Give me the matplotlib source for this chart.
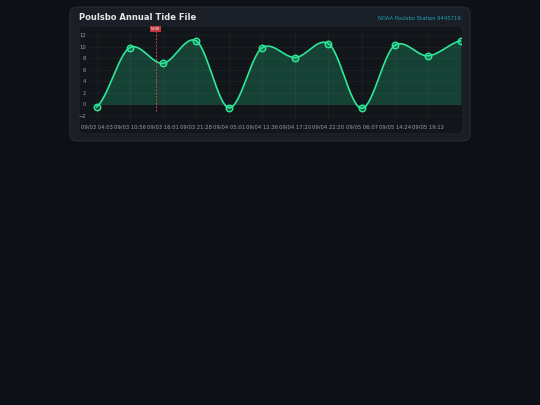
import numpy as np
import matplotlib.pyplot as plt
from matplotlib.patches import FancyBboxPatch

labels = ['09/03 04:03', '09/03 10:56', '09/03 16:01', '09/03 21:28', '09/04 05:01', '09/04 12:36',
          '09/04 17:20', '09/04 22:20', '09/05 06:07', '09/05 14:24', '09/05 19:12', '09/06 01:40']
heights = [-0.4, 9.8, 7.1, 11.0, -0.6, 9.8, 8.1, 10.5, -0.7, 10.2, 8.4, 11.0]
now_pos = 1.78

def smooth(x, y, n=30):
    # catmull-rom through points, only for drawing the curve
    x = np.asarray(x, float); y = np.asarray(y, float)
    xs, ys = [], []
    for i in range(len(x) - 1):
        y0 = y[i - 1] if i > 0 else y[i]
        y3 = y[i + 2] if i + 2 < len(y) else y[i + 1]
        m1 = (y[i + 1] - y0) / 2 * 0.8
        m2 = (y3 - y[i]) / 2 * 0.8
        t = np.linspace(0, 1, n, endpoint=False)
        h00 = 2*t**3 - 3*t**2 + 1; h10 = t**3 - 2*t**2 + t
        h01 = -2*t**3 + 3*t**2; h11 = t**3 - t**2
        xs.append(x[i] + t); ys.append(h00*y[i] + h10*m1 + h01*y[i+1] + h11*m2)
    xs.append([x[-1]]); ys.append([y[-1]])
    return np.concatenate(xs), np.concatenate(ys)

fig = plt.figure(figsize=(5.4, 4.05), dpi=100)
fig.patch.set_facecolor('#0d1117')
W, H = 540, 405
card = FancyBboxPatch((70/W, 1-141/H), 400/W, 134/H, boxstyle='round,pad=0,rounding_size=0.015',
                      transform=fig.transFigure, fc='#1a1e26', ec='#262b35', lw=0.8, zorder=-2)
fig.patches.append(card)
inner = FancyBboxPatch((80/W, 1-133/H), 382/W, 106/H, boxstyle='round,pad=0,rounding_size=0.01',
                       transform=fig.transFigure, fc='#121519', ec='none', zorder=-1)
fig.patches.append(inner)
fig.text(79/W, 1-18/H, 'Poulsbo Annual Tide File', color='#e6e6e6', fontsize=6, fontweight='bold', va='center')
fig.text(461/W, 1-18/H, 'NOAA Poulsbo Station 9445719', color='#1fa3b8', fontsize=3.8, ha='right', va='center')

ax = fig.add_axes([90/W, 1-120/H, 371/W, 90/H], zorder=1)
ax.set_facecolor('#121519')
x = np.arange(len(heights))
xs, ys = smooth(x, heights)
ax.fill_between(xs, ys, 0, color='#1a7a55', alpha=0.45, lw=0)
ax.plot(xs, ys, color='#2ee89a', lw=1.2)
ax.scatter(x, heights, s=22, facecolor=(0.18, 0.91, 0.6, 0.3), edgecolor='#2ee89a', lw=1.0, zorder=3)
ax.axvline(now_pos, ymin=0.1, ymax=1, color='#d9434a', ls=(0, (2, 1.5)), lw=0.7)
ax.text(now_pos, 13.0, 'NOW', color='#ffffff', fontsize=2.6, ha='center', va='center',
        bbox=dict(fc='#c0353b', ec='none', pad=0.6))
ax.set_xlim(-0.2, 10.58)
ax.set_ylim(-2.7, 12.86)
ax.set_yticks(range(-2, 13, 2))
ax.set_xticks(x)
ax.set_xticklabels(labels)
ax.tick_params(colors='#9aa0a6', labelsize=3.8, length=0, pad=3)
ax.get_xticklabels()[-1].set_visible(False)
ax.grid(color='#ffffff', alpha=0.05, lw=0.5)
for s in ax.spines.values():
    s.set_visible(False)

fig.savefig('out.png', dpi=100, facecolor=fig.get_facecolor())
